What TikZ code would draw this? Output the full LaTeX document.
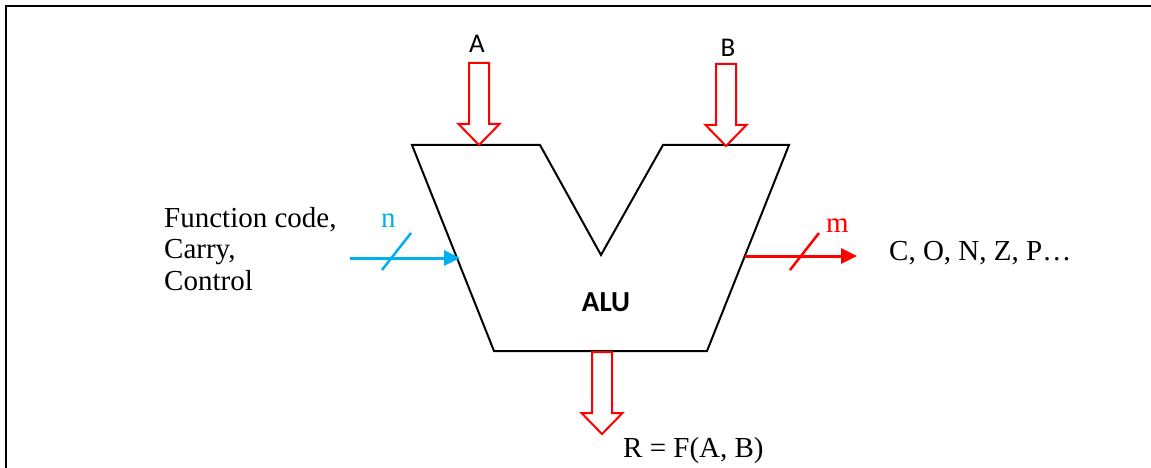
\documentclass[tikz,border=0pt]{standalone}
\usepackage{fontspec}
\setmainfont{Liberation Serif}
\newfontfamily\calibri{Carlito}
\usetikzlibrary{arrows.meta}
\definecolor{cyanblue}{RGB}{0,176,240}
\begin{document}
\begin{tikzpicture}[x=1pt,y=-1pt,
  hollow/.style={draw=red,line width=2pt,fill=white,line join=miter},
  body/.style={draw=black,line width=2pt,line join=miter},
  harrow/.pic={\draw[hollow] (-10,-82) -- (10,-82) -- (10,-21) -- (20.5,-21) -- (0,0) -- (-20.5,-21) -- (-10,-21) -- cycle;},
  serif/.style={font=\fontsize{29}{33}\selectfont,inner sep=0pt,anchor=base west},
  sans/.style={font=\calibri\fontsize{27}{32}\selectfont,inner sep=0pt,anchor=base},
  bus/.style={line width=3pt},
  tip/.style={-{Triangle[length=16pt,width=15pt]}}]
\useasboundingbox (0,0) rectangle (1151,468);
% frame
\draw[line width=2pt] (6,468) -- (6,6) -- (1151,6);
% ALU body
\draw[body] (412,145) -- (540,145) -- (601,255) -- (663,145) -- (789,145) -- (707,351) -- (494,351) -- cycle;
\node[font=\calibri\bfseries\fontsize{29}{33}\selectfont,inner sep=0pt,anchor=base] (alu) at (606,311) {ALU};
% inputs A and B
\pic at (479,145) {harrow};
\pic at (726,146) {harrow};
\node[sans] (labA) at (477,53) {A};
\node[sans] (labB) at (728,57) {B};
% output R
\pic at (602,434) {harrow};
\node[serif] (res) at (623,457) {R = F(A, B)};
% left control input
\node[serif] (f1) at (164,227) {Function code,};
\node[serif] (f2) at (164,258) {Carry,};
\node[serif] (f3) at (164,290) {Control};
\coordinate (nin) at (350,258);
\coordinate (aluL) at (460,258);
\draw[cyanblue,bus,tip] (nin) -- (aluL);
\draw[cyanblue,line width=2.5pt] (382,270) -- (411,233);
\node[serif,text=cyanblue] (n) at (381,227) {n};
% right flags output
\coordinate (aluR) at (745,256);
\coordinate (fout) at (857,256);
\draw[red,bus,tip] (aluR) -- (fout);
\draw[red,line width=2.5pt] (790,270) -- (819,233);
\node[serif,text=red] (m) at (826,232) {m};
\node[serif] (flags) at (889,260) {C, O, N, Z, P…};
\end{tikzpicture}
\end{document}
